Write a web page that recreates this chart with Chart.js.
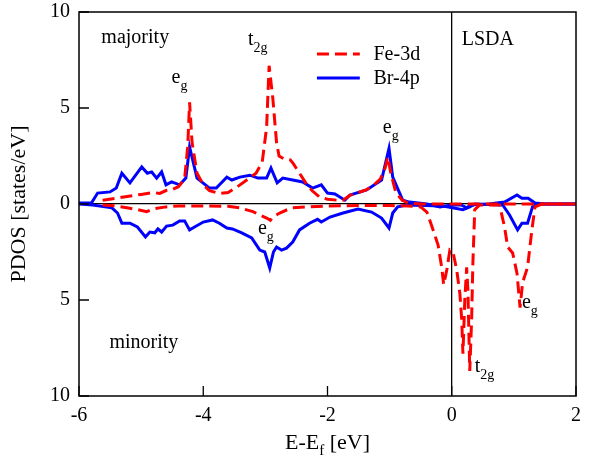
<!DOCTYPE html>
<html lang="en">
<head>
    <meta charset="UTF-8">
    <script src="https://cdn.jsdelivr.net/npm/chart.js"></script>
    <style>
        html, body { margin: 0; padding: 0; background: #fff; }
        #wrap { width: 589px; height: 461px; }
    </style>
</head>
<body>
    <div id="wrap"><canvas id="pdos"></canvas></div>
    <script>
        // Fe-3d, spin up (majority)
        const feUpX = [-5.62, -5.4, -5.2, -5.0, -4.8, -4.7, -4.6, -4.5, -4.4, -4.3, -4.25, -4.22, -4.18, -4.1, -4.0, -3.9, -3.75, -3.6, -3.45, -3.3, -3.15, -3.05, -2.98, -2.94, -2.88, -2.82, -2.78, -2.7, -2.6, -2.55, -2.45, -2.35, -2.25, -2.13, -2.0, -1.85, -1.75, -1.64, -1.5, -1.37, -1.25, -1.15, -1.07, -1.03, -0.98, -0.9, -0.8, -0.7, -0.5, 2.0];
        const feUpY = [0.2, 0.3, 0.4, 0.5, 0.6, 0.55, 0.7, 0.75, 0.9, 1.3, 3.0, 5.3, 3.2, 1.6, 1.0, 0.7, 0.55, 0.6, 0.9, 1.25, 1.6, 2.2, 4.0, 7.2, 5.5, 3.2, 2.5, 2.35, 2.3, 2.1, 1.6, 1.1, 0.7, 0.37, 0.25, 0.2, 0.2, 0.45, 0.6, 0.75, 1.0, 1.3, 1.9, 2.45, 1.6, 0.6, 0.2, 0.05, 0, 0];

        // Fe-3d, spin down (minority), plotted negative
        const feDnX = [-5.62, -5.4, -5.23, -5.05, -4.91, -4.8, -4.6, -4.4, -4.0, -3.6, -3.41, -3.2, -3.09, -2.98, -2.92, -2.88, -2.77, -2.65, -2.56, -2.3, -2.0, -1.5, -1.0, -0.7, -0.5, -0.4, -0.3, -0.22, -0.16, -0.13, -0.08, -0.03, 0.02, 0.08, 0.13, 0.16, 0.18, 0.21, 0.24, 0.26, 0.29, 0.32, 0.34, 0.37, 0.45, 0.77, 0.85, 0.9, 0.98, 1.05, 1.1, 1.14, 1.22, 1.29, 1.34, 1.45, 2.0];
        const feDnY = [-0.05, -0.1, -0.2, -0.3, -0.4, -0.25, -0.15, -0.1, -0.1, -0.12, -0.2, -0.4, -0.57, -0.73, -0.85, -0.68, -0.47, -0.3, -0.2, -0.15, -0.1, -0.08, -0.08, -0.1, -0.15, -0.42, -1.35, -2.14, -3.33, -4.2, -3.44, -2.4, -2.5, -3.44, -4.64, -6.0, -7.8, -5.0, -3.3, -4.5, -8.7, -6.0, -3.1, -0.3, -0.05, -0.05, -1.2, -2.24, -2.55, -3.6, -5.4, -4.1, -3.3, -1.35, -0.15, 0, 0];

        // Br-4p, spin up
        const brUpX = [-6.0, -5.8, -5.7, -5.5, -5.4, -5.31, -5.18, -4.99, -4.9, -4.83, -4.75, -4.67, -4.6, -4.51, -4.38, -4.28, -4.22, -4.1, -3.9, -3.79, -3.62, -3.54, -3.41, -3.25, -3.12, -2.98, -2.91, -2.81, -2.72, -2.56, -2.4, -2.24, -2.1, -2.0, -1.88, -1.72, -1.64, -1.37, -1.13, -1.01, -0.95, -0.79, -0.68, -0.4, -0.19, 0.0, 0.15, 0.24, 0.3, 0.6, 0.85, 1.05, 1.13, 1.23, 1.34, 1.5, 2.0];
        const brUpY = [0.05, 0.05, 0.57, 0.63, 0.83, 1.6, 1.1, 1.93, 1.6, 1.67, 1.35, 1.67, 1.0, 1.15, 1.0, 1.35, 2.97, 1.35, 0.83, 0.83, 1.4, 1.25, 1.4, 1.5, 1.35, 1.35, 1.87, 1.1, 1.35, 1.25, 1.15, 0.83, 1.0, 0.57, 0.52, 0.2, 0.47, 0.73, 1.25, 2.9, 1.4, 0.2, 0.1, 0.0, -0.15, -0.05, -0.05, -0.2, -0.05, 0.0, 0.1, 0.47, 0.3, 0.3, 0.05, 0, 0];

        // Br-4p, spin down
        const brDnX = [-6.0, -5.78, -5.47, -5.38, -5.31, -5.18, -5.06, -4.93, -4.86, -4.78, -4.73, -4.67, -4.59, -4.49, -4.38, -4.3, -4.22, -4.14, -4.0, -3.85, -3.74, -3.62, -3.53, -3.38, -3.22, -3.09, -3.01, -2.93, -2.87, -2.82, -2.74, -2.66, -2.56, -2.45, -2.29, -2.16, -2.1, -1.96, -1.75, -1.51, -1.29, -1.13, -1.01, -0.95, -0.87, -0.72, -0.14, 0.18, 0.29, 0.37, 0.82, 0.93, 1.06, 1.13, 1.22, 1.3, 1.37, 2.0];
        const brDnY = [0, -0.05, -0.2, -0.47, -1.0, -1.0, -1.2, -1.72, -1.46, -1.5, -1.3, -1.46, -1.15, -1.1, -0.88, -0.88, -1.35, -1.2, -0.94, -0.83, -1.0, -1.25, -1.3, -1.5, -1.77, -2.4, -2.5, -3.33, -2.5, -2.24, -2.4, -2.3, -1.98, -1.35, -1.0, -0.8, -0.94, -0.68, -0.47, -0.26, -0.42, -0.73, -1.25, -0.47, -0.15, -0.05, -0.1, -0.3, -0.15, 0, -0.05, -0.57, -1.35, -1.0, -1.0, -0.15, 0, 0];

        const xTicks = [-6, -4, -2, 0, 2];
        const yTicks = [-10, -5, 0, 5, 10];

        // text labels inside the plot: [text, subscript, x, y]
        const notes = [
            ['majority', '', -5.64, 8.39],
            ['t', '2g', -3.28, 8.28],
            ['e', 'g', -4.51, 6.3],
            ['LSDA', '', 0.16, 8.28],
            ['e', 'g', -1.11, 3.7],
            ['e', 'g', -3.12, -1.56],
            ['minority', '', -5.51, -7.5],
            ['e', 'g', 1.13, -5.42],
            ['t', '2g', 0.37, -8.75]
        ];

        const RED = '#ff0000';
        const BLUE = '#0000ff';
        const SERIF = '"Liberation Serif", "DejaVu Serif", serif';

        function pts(xs, ys) {
            return xs.map((x, i) => ({ x: x, y: ys[i] }));
        }

        function subText(ctx, x, y, main, sub, size) {
            ctx.font = size + 'px ' + SERIF;
            ctx.fillText(main, x, y);
            if (sub) {
                const w = ctx.measureText(main).width;
                ctx.font = Math.round(size * 0.7) + 'px ' + SERIF;
                ctx.fillText(sub, x + w, y + size * 0.35);
            }
        }

        const decor = {
            id: 'decor',
            afterDatasetsDraw(chart) {
                const ctx = chart.ctx;
                const a = chart.chartArea;
                const xs = chart.scales.x, ys = chart.scales.y;
                ctx.save();
                // frame
                ctx.strokeStyle = '#000';
                ctx.lineWidth = 1.5;
                ctx.strokeRect(a.left, a.top, a.right - a.left, a.bottom - a.top);
                // inward ticks
                ctx.lineWidth = 1.3;
                ctx.beginPath();
                xTicks.forEach(v => {
                    const px = xs.getPixelForValue(v);
                    ctx.moveTo(px, a.bottom);
                    ctx.lineTo(px, a.bottom - 10);
                });
                yTicks.forEach(v => {
                    const py = ys.getPixelForValue(v);
                    ctx.moveTo(a.left, py);
                    ctx.lineTo(a.left + 10, py);
                });
                ctx.stroke();

                // notes
                ctx.fillStyle = '#000';
                ctx.textBaseline = 'alphabetic';
                ctx.textAlign = 'left';
                notes.forEach(n => {
                    subText(ctx, xs.getPixelForValue(n[2]), ys.getPixelForValue(n[3]), n[0], n[1], 20);
                });

                // legend
                const lx0 = xs.getPixelForValue(-2.17), lx1 = xs.getPixelForValue(-1.48);
                const tx = xs.getPixelForValue(-1.26);
                const rows = [[chart.data.datasets[0], 7.81, 'Fe-3d'], [chart.data.datasets[2], 6.56, 'Br-4p']];
                rows.forEach(r => {
                    const py = ys.getPixelForValue(r[1]);
                    ctx.strokeStyle = r[0].borderColor;
                    ctx.lineWidth = 3;
                    ctx.setLineDash(r[0].borderDash || []);
                    ctx.beginPath();
                    ctx.moveTo(lx0, py);
                    ctx.lineTo(lx1, py);
                    ctx.stroke();
                    ctx.setLineDash([]);
                    ctx.font = '20px ' + SERIF;
                    ctx.textBaseline = 'middle';
                    ctx.fillText(r[2], tx, py + 1);
                });

                // axis titles
                ctx.textBaseline = 'alphabetic';
                ctx.font = '22px ' + SERIF;
                const w1 = ctx.measureText('E-E').width;
                const w3 = ctx.measureText(' [eV]').width;
                ctx.font = '15px ' + SERIF;
                const w2 = ctx.measureText('f').width;
                let x0 = (a.left + a.right) / 2 - (w1 + w2 + w3) / 2;
                ctx.font = '22px ' + SERIF;
                ctx.fillText('E-E', x0, 449);
                ctx.font = '15px ' + SERIF;
                ctx.fillText('f', x0 + w1, 455);
                ctx.font = '22px ' + SERIF;
                ctx.fillText(' [eV]', x0 + w1 + w2, 449);

                ctx.translate(25, (a.top + a.bottom) / 2);
                ctx.rotate(-Math.PI / 2);
                ctx.textAlign = 'center';
                ctx.fillText('PDOS [states/eV]', 0, 0);
                ctx.restore();
            }
        };

        new Chart(document.getElementById('pdos'), {
            type: 'line',
            data: {
                datasets: [
                    { label: 'Fe-3d', data: pts(feUpX, feUpY), borderColor: RED, borderDash: [12, 6], borderWidth: 3, order: 1 },
                    { label: 'Fe-3d dn', data: pts(feDnX, feDnY), borderColor: RED, borderDash: [12, 6], borderWidth: 3, order: 1 },
                    { label: 'Br-4p', data: pts(brUpX, brUpY), borderColor: BLUE, borderWidth: 3, order: 2 },
                    { label: 'Br-4p dn', data: pts(brDnX, brDnY), borderColor: BLUE, borderWidth: 3, order: 2 }
                ]
            },
            options: {
                responsive: true,
                maintainAspectRatio: false,
                animation: false,
                layout: { padding: { top: 12, right: 13, left: 0, bottom: 0 } },
                elements: { point: { radius: 0 }, line: { tension: 0, fill: false } },
                plugins: { legend: { display: false }, tooltip: { enabled: false } },
                scales: {
                    x: {
                        type: 'linear', min: -6, max: 2,
                        afterBuildTicks: s => { s.ticks = xTicks.map(v => ({ value: v })); },
                        afterFit: s => { s.height = 65; s.paddingLeft = 0; s.paddingRight = 0; },
                        ticks: { color: '#000', padding: 8, font: { family: SERIF, size: 20 }, maxRotation: 0 },
                        grid: { drawTicks: false, lineWidth: 1.3, color: c => c.tick && c.tick.value === 0 ? '#000' : 'rgba(0,0,0,0)' },
                        border: { display: false }
                    },
                    y: {
                        min: -10, max: 10,
                        afterBuildTicks: s => { s.ticks = yTicks.map(v => ({ value: v })); },
                        afterFit: s => { s.width = 79; s.paddingTop = 0; s.paddingBottom = 0; },
                        ticks: { color: '#000', padding: 9, font: { family: SERIF, size: 20 }, callback: v => Math.abs(v) },
                        grid: { drawTicks: false, lineWidth: 1.3, color: c => c.tick && c.tick.value === 0 ? '#000' : 'rgba(0,0,0,0)' },
                        border: { display: false }
                    }
                }
            },
            plugins: [decor]
        });
    </script>
</body>
</html>
